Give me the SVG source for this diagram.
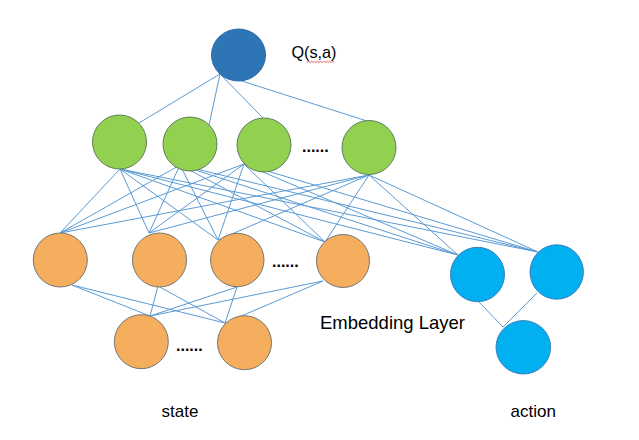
<svg xmlns="http://www.w3.org/2000/svg" width="639" height="440" viewBox="0 0 639 440">
<style>
.l{stroke:#5B9BD5;stroke-width:1;fill:none}
.q{fill:#2E75B6;stroke:#2E6AA8;stroke-width:1}
.g{fill:#92D050;stroke:#5E7E5C;stroke-width:1}
.o{fill:#F5AD5E;stroke:#767676;stroke-width:1}
.c{fill:#00B0F0;stroke:#3B7FBF;stroke-width:1}
.t{font-family:"Liberation Sans",Arial,sans-serif;fill:#000}
</style>
<rect width="639" height="440" fill="#fff"/>
<g id="connectors">
<!-- Q to green -->
<line class="l" x1="220" y1="74" x2="139" y2="123"/>
<line class="l" x1="220" y1="74" x2="209" y2="125"/>
<line class="l" x1="220" y1="74" x2="263" y2="118"/>
<line class="l" x1="220" y1="74" x2="367" y2="121"/>
<!-- G1 -->
<line class="l" x1="120" y1="169" x2="60" y2="233"/>
<line class="l" x1="120" y1="169" x2="149" y2="233"/>
<line class="l" x1="120" y1="169" x2="218" y2="240"/>
<line class="l" x1="120" y1="169" x2="325" y2="242"/>
<line class="l" x1="120" y1="169" x2="458" y2="255"/>
<line class="l" x1="120" y1="169" x2="538" y2="252"/>
<!-- G2 -->
<line class="l" x1="180" y1="165" x2="60" y2="233"/>
<line class="l" x1="180" y1="165" x2="149" y2="233"/>
<line class="l" x1="180" y1="165" x2="218" y2="240"/>
<line class="l" x1="180" y1="165" x2="325" y2="242"/>
<line class="l" x1="180" y1="165" x2="458" y2="255"/>
<line class="l" x1="180" y1="165" x2="538" y2="252"/>
<!-- G3 -->
<line class="l" x1="244" y1="164" x2="60" y2="233"/>
<line class="l" x1="244" y1="164" x2="149" y2="233"/>
<line class="l" x1="244" y1="164" x2="218" y2="240"/>
<line class="l" x1="244" y1="164" x2="325" y2="242"/>
<line class="l" x1="244" y1="164" x2="458" y2="255"/>
<line class="l" x1="244" y1="164" x2="538" y2="252"/>
<!-- G4 -->
<line class="l" x1="369" y1="175" x2="60" y2="233"/>
<line class="l" x1="369" y1="175" x2="149" y2="233"/>
<line class="l" x1="369" y1="175" x2="218" y2="240"/>
<line class="l" x1="369" y1="175" x2="325" y2="242"/>
<line class="l" x1="369" y1="175" x2="458" y2="255"/>
<line class="l" x1="369" y1="175" x2="538" y2="252"/>
<!-- orange to bottom -->
<line class="l" x1="72" y1="285" x2="150" y2="316"/>
<line class="l" x1="72" y1="285" x2="225" y2="323"/>
<line class="l" x1="158" y1="286" x2="150" y2="316"/>
<line class="l" x1="158" y1="286" x2="225" y2="323"/>
<line class="l" x1="237" y1="287" x2="150" y2="316"/>
<line class="l" x1="237" y1="287" x2="225" y2="323"/>
<line class="l" x1="323" y1="281" x2="150" y2="316"/>
<line class="l" x1="323" y1="281" x2="225" y2="323"/>
<!-- cyan -->
<line class="l" x1="479" y1="302" x2="503" y2="327"/>
<line class="l" x1="537" y1="293" x2="503" y2="327"/>
</g>
<g id="q"><ellipse class="q" cx="238.5" cy="55" rx="27" ry="26"/></g>
<g id="g1"><circle class="g" cx="119.5" cy="142" r="27"/></g>
<g id="g2"><circle class="g" cx="190" cy="144" r="27"/></g>
<g id="g3"><circle class="g" cx="264" cy="145" r="27"/></g>
<g id="g4"><circle class="g" cx="369" cy="147.5" r="27"/></g>
<g id="o1"><circle class="o" cx="60.3" cy="260" r="27"/></g>
<g id="o2"><circle class="o" cx="159.5" cy="260" r="27"/></g>
<g id="o3"><circle class="o" cx="237.3" cy="260" r="26.7"/></g>
<g id="o4"><circle class="o" cx="343" cy="261" r="26.5"/></g>
<g id="b1"><circle class="o" cx="141.3" cy="341.7" r="27"/></g>
<g id="b2"><circle class="o" cx="244.5" cy="342.7" r="27"/></g>
<g id="c1"><ellipse class="c" cx="477.5" cy="274.5" rx="27" ry="27.2"/></g>
<g id="c2"><ellipse class="c" cx="556.7" cy="272" rx="26.7" ry="27.2"/></g>
<g id="c3"><ellipse class="c" cx="523.3" cy="347.3" rx="27.3" ry="26.7"/></g>
<g id="labels">
<text class="t" x="291.5" y="57.5" font-size="16.2">Q(s,a)</text>
<path d="M307,62.5 l1.5,-1.2 l1.5,1.2 l1.5,-1.2 l1.5,1.2 l1.5,-1.2 l1.5,1.2 l1.5,-1.2 l1.5,1.2 l1.5,-1.2 l1.5,1.2 l1.5,-1.2 l1.5,1.2 l1.5,-1.2 l1.5,1.2 l1.5,-1.2 l1.5,1.2 l1.5,-1.2 l1.5,1.2" fill="none" stroke="#E0393E" stroke-width="0.8"/>
<text class="t" x="302" y="152" font-size="16" font-weight="bold">......</text>
<text class="t" x="272" y="267" font-size="16" font-weight="bold">......</text>
<text class="t" x="176" y="351" font-size="16" font-weight="bold">......</text>
<text class="t" x="320" y="329" font-size="18.5">Embedding Layer</text>
<text class="t" x="161.5" y="417" font-size="17">state</text>
<text class="t" x="510.5" y="417" font-size="17">action</text>
</g>
</svg>
